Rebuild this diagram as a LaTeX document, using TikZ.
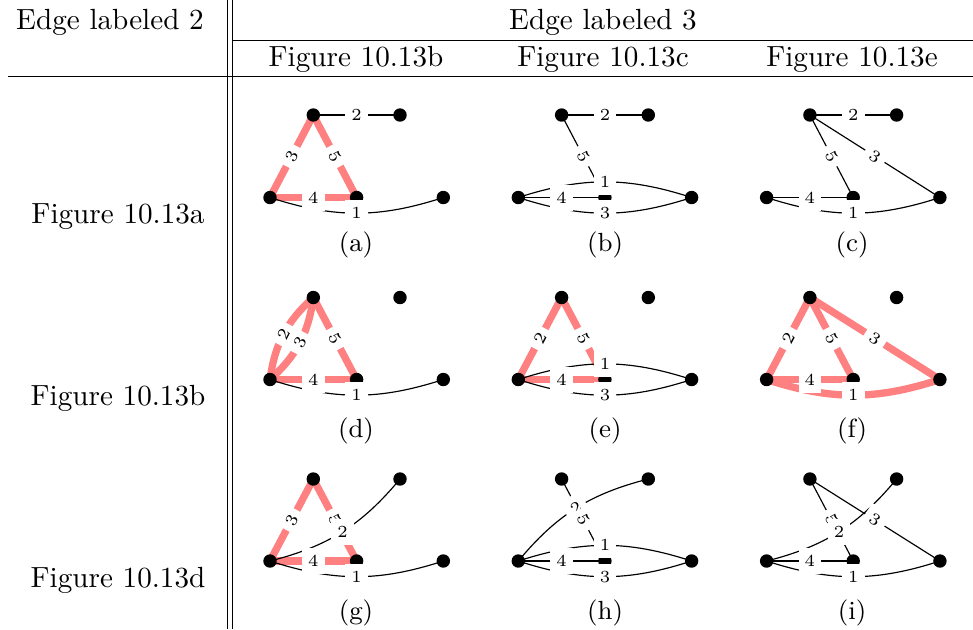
\documentclass[tikz,border=0pt]{standalone}
\pgfdeclarelayer{bg}\pgfdeclarelayer{fg}\pgfsetlayers{bg,main,fg}
\definecolor{hlred}{RGB}{255,128,128}
\tikzset{
 dot/.style={circle,fill=black,inner sep=0pt,minimum size=4.6pt},
 lab/.style={fill=white,inner xsep=2.1pt,inner ysep=2.5pt,font=\fontsize{5.8}{7}\selectfont},
 thinedge/.style={draw=black,line width=0.4pt},
 hl/.style={draw=hlred,line width=2.5pt},
 rule/.style={line width=0.4pt},
 txt/.style={anchor=base,inner sep=0pt,font=\fontsize{10}{12}\selectfont},
 capt/.style={anchor=base,inner sep=0pt,font=\fontsize{9}{11}\selectfont},
}
\newcommand\placedots[4]{%
 \node[dot] (#1A) at (#2,-#3) {};
 \node[dot] (#1B) at (#2+86.7,-#3) {};
 \node[dot] (#1C) at (#2-43.3,-#4) {};
 \node[dot] (#1D) at (#2+43.3,-#4) {};
 \node[dot] (#1E) at (#2+130,-#4) {};
}
\newcommand\ed[6]{%
 \begin{pgfonlayer}{bg}\draw[#1] (#2.center) #3 (#4.center);\end{pgfonlayer}%
 \begin{pgfonlayer}{fg}\path (#2.center) #3 node[lab,#5] {#6} (#4.center);\end{pgfonlayer}%
}
\begin{document}
\begin{tikzpicture}[x=0.3429pt,y=0.3429pt]
\useasboundingbox (0,0) rectangle (973,-629);
% table rules
\coordinate (v1t) at (227.7,0); \coordinate (v1b) at (227.7,-629);
\coordinate (v2t) at (232.7,0); \coordinate (v2b) at (232.7,-629);
\coordinate (h1l) at (232.7,-40.7); \coordinate (h1r) at (973,-40.7);
\coordinate (h2l) at (8,-76.7); \coordinate (h2r) at (973,-76.7);
\draw[rule] (v1t) -- (v1b);
\draw[rule] (v2t) -- (v2b);
\draw[rule] (h1l) -- (h1r);
\draw[rule] (h2l) -- (h2r);
% header texts
\node[txt] (hd2) at (110,-29) {Edge labeled 2};
\node[txt] (hd3) at (603,-29) {Edge labeled 3};
\node[txt] (cb) at (356,-66) {Figure 10.13b};
\node[txt] (cc) at (603,-66) {Figure 10.13c};
\node[txt] (ce) at (852,-66) {Figure 10.13e};
\node[txt] (ra) at (118,-223) {Figure 10.13a};
\node[txt] (rb) at (118,-405) {Figure 10.13b};
\node[txt] (rd) at (118,-587) {Figure 10.13d};
% subcaptions
\node[capt] (sa) at (356,-251) {(a)};
\node[capt] (sb) at (605,-251) {(b)};
\node[capt] (sc) at (852,-251) {(c)};
\node[capt] (sd) at (356,-437) {(d)};
\node[capt] (se) at (605,-437) {(e)};
\node[capt] (sf) at (852,-437) {(f)};
\node[capt] (sg) at (356,-619) {(g)};
\node[capt] (sh) at (605,-619) {(h)};
\node[capt] (si) at (852,-619) {(i)};
% (a)
\placedots{a}{313.3}{115}{197.5}
\ed{hl}{aA}{--}{aC}{sloped}{3}
\ed{hl}{aA}{--}{aD}{sloped}{5}
\ed{hl}{aC}{--}{aD}{}{4}
\ed{thinedge}{aA}{--}{aB}{}{2}
\ed{thinedge}{aC}{to[bend right=18]}{aE}{}{1}
% (b)
\placedots{b}{561.6}{115}{197.5}
\ed{thinedge}{bA}{--}{bB}{}{2}
\ed{thinedge}{bA}{--}{bD}{sloped}{5}
\ed{thinedge}{bC}{--}{bD}{}{4}
\ed{thinedge}{bC}{to[bend left=18]}{bE}{}{1}
\ed{thinedge}{bC}{to[bend right=18]}{bE}{}{3}
% (c)
\placedots{c}{809.9}{115}{197.5}
\ed{thinedge}{cA}{--}{cB}{}{2}
\ed{thinedge}{cA}{--}{cD}{sloped}{5}
\ed{thinedge}{cA}{--}{cE}{sloped}{3}
\ed{thinedge}{cC}{--}{cD}{}{4}
\ed{thinedge}{cC}{to[bend right=18]}{cE}{}{1}
% (d)
\placedots{d}{313.3}{297.5}{379.5}
\ed{hl}{dA}{to[bend right=20]}{dC}{sloped}{2}
\ed{hl}{dA}{to[bend left=20]}{dC}{sloped}{3}
\ed{hl}{dA}{--}{dD}{sloped}{5}
\ed{hl}{dC}{--}{dD}{}{4}
\ed{thinedge}{dC}{to[bend right=18]}{dE}{}{1}
% (e)
\placedots{e}{561.6}{297.5}{379.5}
\ed{hl}{eA}{--}{eC}{sloped}{2}
\ed{hl}{eA}{--}{eD}{sloped}{5}
\ed{hl}{eC}{--}{eD}{}{4}
\ed{thinedge}{eC}{to[bend left=18]}{eE}{}{1}
\ed{thinedge}{eC}{to[bend right=18]}{eE}{}{3}
% (f)
\placedots{f}{809.9}{297.5}{379.5}
\ed{hl}{fA}{--}{fC}{sloped}{2}
\ed{hl}{fA}{--}{fD}{sloped}{5}
\ed{hl}{fA}{--}{fE}{sloped}{3}
\ed{hl}{fC}{--}{fD}{}{4}
\ed{hl}{fC}{to[bend right=18]}{fE}{}{1}
% (g)
\placedots{g}{313.3}{479}{561}
\ed{hl}{gA}{--}{gC}{sloped}{3}
\ed{hl}{gA}{--}{gD}{sloped}{5}
\ed{hl}{gC}{--}{gD}{}{4}
\ed{thinedge}{gC}{to[bend right=18]}{gB}{}{2}
\ed{thinedge}{gC}{to[bend right=18]}{gE}{}{1}
% (h)
\placedots{h}{561.6}{479}{561}
\ed{thinedge}{hC}{to[bend left=18]}{hB}{sloped}{2}
\ed{thinedge}{hA}{--}{hD}{sloped}{5}
\ed{thinedge}{hC}{--}{hD}{}{4}
\ed{thinedge}{hC}{to[bend left=18]}{hE}{}{1}
\ed{thinedge}{hC}{to[bend right=18]}{hE}{}{3}
% (i)
\placedots{i}{809.9}{479}{561}
\ed{thinedge}{iA}{--}{iD}{sloped}{5}
\ed{thinedge}{iA}{--}{iE}{sloped}{3}
\ed{thinedge}{iC}{to[bend right=18]}{iB}{}{2}
\ed{thinedge}{iC}{--}{iD}{}{4}
\ed{thinedge}{iC}{to[bend right=18]}{iE}{}{1}
\end{tikzpicture}
\end{document}
